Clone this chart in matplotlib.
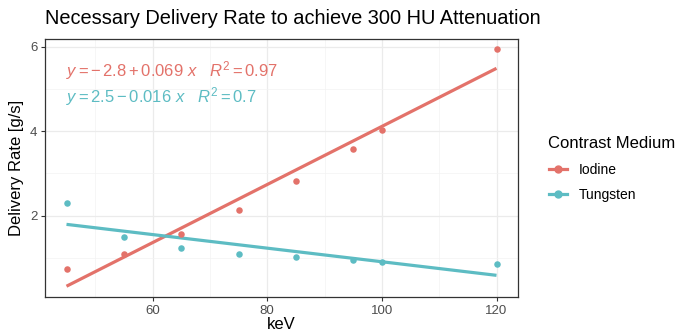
import numpy as np
import matplotlib
matplotlib.use("Agg")
import matplotlib.pyplot as plt
from matplotlib.lines import Line2D

plt.rcParams['font.family'] = ['Liberation Sans', 'DejaVu Sans']
plt.rcParams['mathtext.fontset'] = 'custom'
plt.rcParams['mathtext.rm'] = 'Liberation Sans'
plt.rcParams['mathtext.it'] = 'Liberation Sans:italic'

kev = [45, 55, 65, 75, 85, 95, 100, 120]
iodine = [0.74, 1.09, 1.57, 2.13, 2.82, 3.59, 4.03, 5.94]
tungsten = [2.31, 1.50, 1.23, 1.09, 1.02, 0.95, 0.91, 0.87]
media = ["Iodine", "Tungsten"]
colors = ["#E3726A", "#5DBCC3"]

fig = plt.figure(figsize=(6.84, 3.34), dpi=100)
ax = fig.add_axes([45 / 684, 1 - 297 / 334, 473 / 684, 258 / 334])
ax.set_facecolor("white")

# -------- points + linear fits --------
x = np.array(kev, dtype=float)
for name, ys, col, ty in zip(media, [iodine, tungsten], colors, [0.878, 0.775]):
    ys = np.array(ys)
    slope, icpt = np.polyfit(x, ys, 1)
    fit = icpt + slope * x
    r2 = 1 - np.sum((ys - fit) ** 2) / np.sum((ys - ys.mean()) ** 2)
    ax.scatter(x, ys, s=22, color=col, zorder=3, linewidths=0)
    ax.plot([x.min(), x.max()], [icpt + slope * x.min(), icpt + slope * x.max()],
            color=col, lw=2.3, zorder=2, solid_capstyle="butt")
    if icpt < 0:
        lab = r"$y = -\,%.1f + %.3f\ x\ \ \ R^2 = %s$" % (abs(icpt), abs(slope), f"{r2:.2g}")
    else:
        lab = r"$y = %.1f - %.3f\ x\ \ \ R^2 = %s$" % (icpt, abs(slope), f"{r2:.2g}")
    ax.text(0.045, ty, lab, transform=ax.transAxes, color=col, fontsize=12,
            va="center", ha="left")

ax.set_xlim(41.25, 123.75)
ax.set_ylim(0.08, 6.18)
ax.set_xticks([60, 80, 100, 120])
ax.set_yticks([2, 4, 6])
ax.set_xticks([50, 70, 90, 110], minor=True)
ax.set_yticks([1, 3, 5], minor=True)
ax.grid(True, which="major", color="#EBEBEB", lw=0.9)
ax.grid(True, which="minor", color="#F3F3F3", lw=0.5)
ax.set_axisbelow(True)
for sp in ax.spines.values():
    sp.set_color("#333333")
    sp.set_linewidth(0.9)
ax.tick_params(which="major", length=3, color="#333333", labelsize=9.5,
               labelcolor="#4D4D4D", width=0.8, pad=2.5)
ax.tick_params(which="minor", length=0)

ax.set_xlabel("keV", fontsize=12, labelpad=0.5)
ax.set_ylabel("Delivery Rate [g/s]", fontsize=12, labelpad=4)
fig.text(45 / 684, 1 - 19 / 334, "Necessary Delivery Rate to achieve 300 HU Attenuation",
         fontsize=14.4, va="center", ha="left")

handles = [Line2D([0], [0], color=c, lw=2.3, marker="o", markersize=5) for c in colors]
leg = fig.legend(handles, media, title="Contrast Medium", loc="upper left",
                 bbox_to_anchor=(536 / 684, 1 - 124 / 334), frameon=False,
                 fontsize=10, title_fontsize=12, handlelength=1.3,
                 labelspacing=0.8, handletextpad=0.9)
leg._legend_box.align = "left"

fig.savefig("out.png", dpi=100, facecolor="white")
